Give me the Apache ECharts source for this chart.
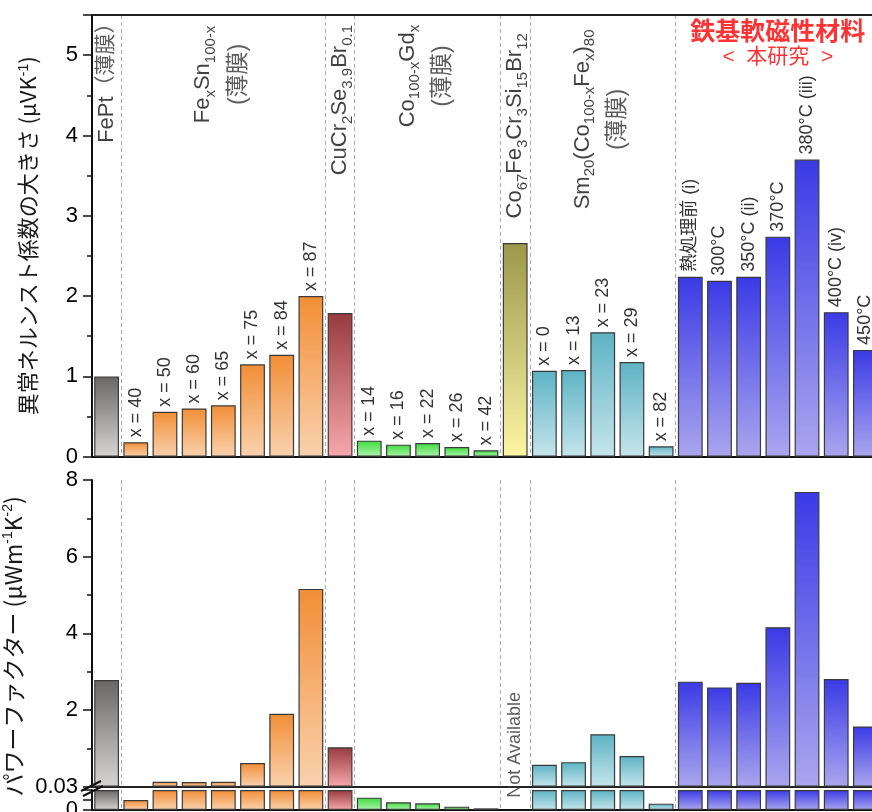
<!DOCTYPE html>
<html><head><meta charset="utf-8">
<script src="https://cdn.jsdelivr.net/npm/echarts@6/dist/echarts.min.js"></script>
<style>html,body{margin:0;padding:0;background:#fff}#c{width:872px;height:812px}</style>
</head><body><div id="c"></div>
<script>
// ---------------- data ----------------
const categories = ['FePt','FeSn x=40','FeSn x=50','FeSn x=60','FeSn x=65','FeSn x=75','FeSn x=84','FeSn x=87',
  'CuCr2Se3.9Br0.1','CoGd x=14','CoGd x=16','CoGd x=22','CoGd x=26','CoGd x=42',
  'Co67Fe3Cr3Si15Br12','SmCoFe x=0','SmCoFe x=13','SmCoFe x=23','SmCoFe x=29','SmCoFe x=82',
  '熱処理前','300°C','350°C','370°C','380°C','400°C','450°C'];
const barLabels = ['','x = 40','x = 50','x = 60','x = 65','x = 75','x = 84','x = 87',
  '','x = 14','x = 16','x = 22','x = 26','x = 42',
  '','x = 0','x = 13','x = 23','x = 29','x = 82',
  '熱処理前 (i)','300°C','350°C (ii)','370°C','380°C (iii)','400°C (iv)','450°C'];
const groupOf = [0,1,1,1,1,1,1,1,2,3,3,3,3,3,4,5,5,5,5,5,6,6,6,6,6,6,6];
// anomalous Nernst coefficient (μV/K)
const nernst = [1.00,0.18,0.56,0.60,0.64,1.15,1.27,2.00,1.79,0.20,0.15,0.17,0.12,0.08,2.66,1.07,1.08,1.55,1.18,0.13,2.24,2.19,2.24,2.74,3.70,1.80,1.33];
// power factor (μW m^-1 K^-2); null = not available
const powerFactor = [2.78,0.015,0.13,0.12,0.13,0.62,1.90,5.16,1.03,0.0185,0.0115,0.010,0.005,0.0025,null,0.57,0.64,1.37,0.80,0.0095,2.74,2.59,2.71,4.16,7.69,2.81,1.57];
const pfBreak = 0.03;
const groupNames = [
  '{m|FePt}{cjs|（薄膜）}',
  '{m|Fe}{s|x}{m|Sn}{s|100-x}\n{cj|(薄膜)}',
  '{m|CuCr}{s|2}{m|Se}{s|3.9}{m|Br}{s|0.1}',
  '{m|Co}{s|100-x}{m|Gd}{s|x}\n{cj|(薄膜)}',
  '{m|Co}{s|67}{m|Fe}{s|3}{m|Cr}{s|3}{m|Si}{s|15}{m|Br}{s|12}',
  '{m|Sm}{s|20}{m|(Co}{s|100-x}{m|Fe}{s|x}{m|)}{s|80}\n{cj|(薄膜)}',
  '{r1|鉄基軟磁性材料}\n{r2|<  本研究  >}'
];
const groupCenter = [0,4,8,11,14,17,23];
const boundaries = [1,8,9,14,15,20];
const notAvailableText = 'Not Available';

// ---------------- style ----------------
const LAT = 'Liberation Sans, Arial, Noto Sans CJK JP, sans-serif';
const CJK = 'Noto Sans CJK JP, Liberation Sans, sans-serif';
const palette = [
  ['#6a6666','#d8d4d4'],
  ['#f28e36','#f9d2ae'],
  ['#983a3e','#f7a8ac'],
  ['#3cdc3c','#aef4ae'],
  ['#9c984c','#fcf6a4'],
  ['#5db3c4','#c6e5ec'],
  ['#3a3ae6','#aaa6ee']
];
function grad(g){
  return new echarts.graphic.LinearGradient(0,0,0,1,[{offset:0,color:palette[g][0]},{offset:1,color:palette[g][1]}]);
}
const barBorder = {borderColor:'#3a3a3a', borderWidth:1.2};
const yLine = {show:true, lineStyle:{color:'#111', width:2}};
const yTick = {show:true, inside:false, length:9, lineStyle:{color:'#111', width:1.5}};
const yMinor = {show:true, splitNumber:2, length:5, lineStyle:{color:'#111', width:1.5}};
const yLab = {fontSize:22, color:'#000', fontFamily:LAT, margin:14};
const splitDash = {show:true, interval:(i)=>boundaries.indexOf(i)>=0, lineStyle:{color:'#aaaaaa', type:[4,3], width:1}};
const rich = {
  m:{fontSize:22, fontFamily:LAT, color:'#111', lineHeight:30},
  s:{fontSize:15, fontFamily:LAT, color:'#111', lineHeight:16, verticalAlign:'bottom'},
  cj:{fontSize:23, fontFamily:LAT, color:'#333', lineHeight:40},
  cjs:{fontSize:21, fontFamily:LAT, color:'#333', lineHeight:30},
  r1:{fontSize:25, fontFamily:CJK, fontWeight:'bold', color:'#ff0000', lineHeight:30},
  r2:{fontSize:21, fontFamily:LAT, color:'#ff0000', lineHeight:24}
};
const groupLabelY = [4.72,4.76,4.44,4.74,4.12,4.20,5.16];

const chart = echarts.init(document.getElementById('c'), null, {renderer:'canvas'});
const topBars = nernst.map((v,i)=>({value:v, itemStyle:Object.assign({color:grad(groupOf[i])}, barBorder)}));
const upBars = powerFactor.map((v,i)=>({value:(v==null||v<=pfBreak)?'-':v, itemStyle:Object.assign({color:grad(groupOf[i])}, barBorder)}));
const lowBars = powerFactor.map((v,i)=>({value:(v==null)?'-':Math.min(v,pfBreak), itemStyle:Object.assign({color:grad(groupOf[i])}, barBorder)}));

chart.setOption({
  animation:false,
  backgroundColor:'#fff',
  textStyle:{fontFamily:LAT},
  grid:[
    {left:92, right:-8, top:15, height:441.7, outerBoundsMode:'none', containLabel:false},
    {left:92, right:-8, top:480, height:306.7, outerBoundsMode:'none', containLabel:false},
    {left:92, right:-8, top:790, height:20, outerBoundsMode:'none', containLabel:false}
  ],
  xAxis:[
    {gridIndex:0, type:'category', data:categories, position:'bottom', axisLine:{show:true, lineStyle:{color:'#111', width:2}}, axisTick:{show:false}, axisLabel:{show:false}, splitLine:splitDash},
    {gridIndex:0, type:'category', data:categories, position:'top', axisLine:{show:true, lineStyle:{color:'#222', width:2}}, axisTick:{show:false}, axisLabel:{show:false}, splitLine:{show:false}},
    {gridIndex:1, type:'category', data:categories, position:'top', axisLine:{show:true, lineStyle:{color:'#222', width:2}}, axisTick:{show:false}, axisLabel:{show:false}, splitLine:splitDash},
    {gridIndex:2, type:'category', data:categories, position:'bottom', axisLine:{show:true, lineStyle:{color:'#111', width:2}}, axisTick:{show:false}, axisLabel:{show:false}, splitLine:splitDash}
  ],
  yAxis:[
    {gridIndex:0, type:'value', min:0, max:5.5, interval:1, axisLine:yLine, axisTick:yTick, minorTick:yMinor, splitLine:{show:false},
     axisLabel:Object.assign({showMaxLabel:false, formatter:(v)=>Number.isInteger(v)?String(v):''}, yLab),
     name:'異常ネルンスト係数の大きさ (μVK{sup|-1})', nameLocation:'middle', nameGap:53, nameRotate:90,
     nameTextStyle:{fontSize:22, fontFamily:CJK, color:'#1a1a1a', rich:{sup:{fontSize:14, fontFamily:LAT, color:'#1a1a1a', verticalAlign:'top', lineHeight:14}}}},
    {gridIndex:1, type:'value', min:0, max:8, interval:2, axisLine:yLine, axisTick:yTick, minorTick:yMinor, splitLine:{show:false},
     axisLabel:Object.assign({formatter:(v)=>v===0?String(pfBreak):String(v)}, yLab),
     name:'パワーファクター (μWm{sup|-1}K{sup|-2})', nameLocation:'middle', nameGap:52, nameRotate:90,
     nameTextStyle:{fontSize:23, fontFamily:CJK, color:'#1a1a1a', padding:[0,26,0,0], rich:{sup:{fontSize:14, fontFamily:LAT, color:'#1a1a1a', verticalAlign:'top', lineHeight:14}}}},
    {gridIndex:2, type:'value', min:0, max:pfBreak, interval:pfBreak/2, axisLine:yLine, axisTick:yTick, minorTick:{show:false}, splitLine:{show:false},
     axisLabel:Object.assign({formatter:(v)=>v===0?'0':''}, yLab)}
  ],
  series:[
    {type:'bar', xAxisIndex:0, yAxisIndex:0, data:topBars, barWidth:'85%',
     label:{show:true, position:'top', distance:5, rotate:90, align:'left', verticalAlign:'middle', fontSize:18, fontFamily:LAT, color:'#333',
       formatter:(p)=>barLabels[p.dataIndex]}},
    {type:'bar', xAxisIndex:2, yAxisIndex:1, data:upBars, barWidth:'85%'},
    {type:'bar', xAxisIndex:3, yAxisIndex:2, data:lowBars, barWidth:'85%'},
    {type:'scatter', xAxisIndex:0, yAxisIndex:0, symbolSize:0, silent:true,
     data:groupCenter.map((c,k)=>({value:[c, groupLabelY[k]],
       label:{show:true, position:'inside', rotate:(k===6?0:90), align:'center', verticalAlign:'middle', formatter:groupNames[k], rich:rich}}))},
    {type:'scatter', xAxisIndex:2, yAxisIndex:1, symbolSize:0, silent:true,
     data:[{value:[14, 1.09], label:{show:true, position:'inside', rotate:90, align:'center', verticalAlign:'middle', fontSize:18, fontFamily:LAT, color:'#333', formatter:notAvailableText}}]}
  ],
  graphic:[
    {type:'line', shape:{x1:81, y1:791, x2:101, y2:781}, style:{stroke:'#111', lineWidth:2}, z:100},
    {type:'line', shape:{x1:83, y1:796, x2:103, y2:786}, style:{stroke:'#111', lineWidth:2}, z:100}
  ]
});
</script></body></html>
